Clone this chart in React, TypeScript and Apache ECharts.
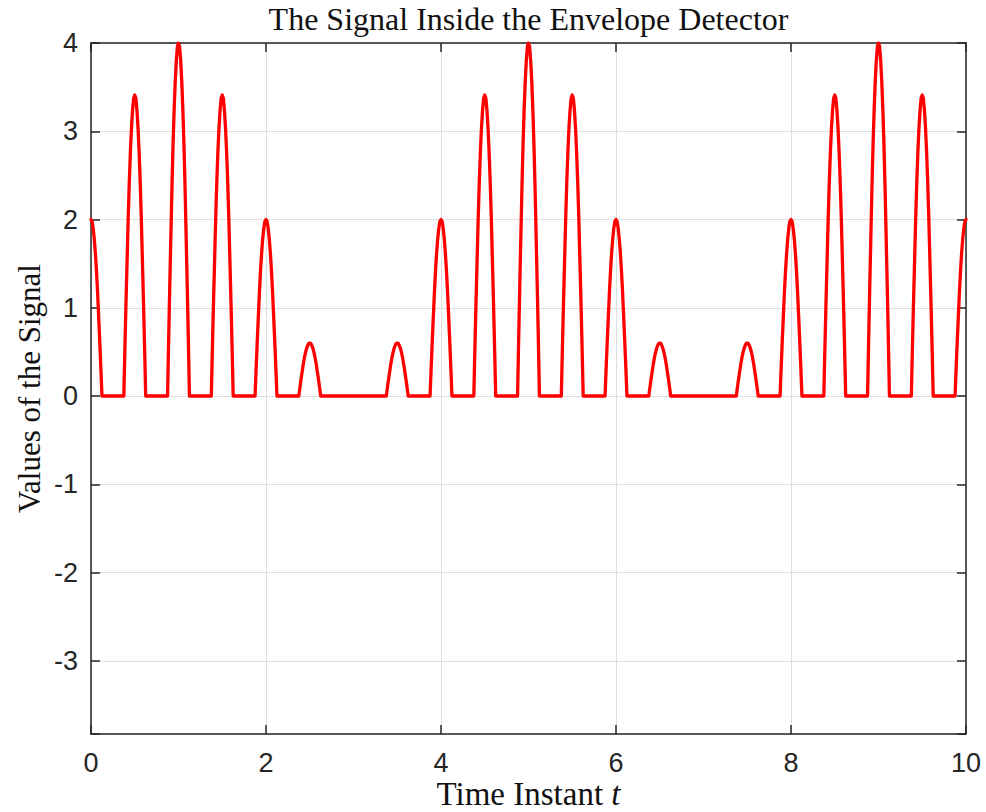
import React, { useEffect, useRef } from 'react';
import * as echarts from 'echarts';

const titleText = 'The Signal Inside the Envelope Detector';
const xLabelText = 'Time Instant ';
const xLabelVar = 't';
const yLabelText = 'Values of the Signal';

const xMin = 0;
const xMax = 10;
const xStep = 2;
const yMin = -3.83;
const yMax = 4;
const yTickLabels = [-3, -2, -1, 0, 1, 2, 3, 4];

// Centre and height of each rectified carrier pulse
const pulseCentres = [0, 0.5, 1, 1.5, 2, 2.5, 3, 3.5, 4, 4.5, 5, 5.5, 6, 6.5, 7, 7.5, 8, 8.5, 9, 9.5, 10];
const pulsePeaks = [2.0, 3.41, 4.0, 3.41, 2.0, 0.6, 0.0, 0.6, 2.0, 3.41, 4.0, 3.41, 2.0, 0.6, 0.0, 0.6, 2.0, 3.41, 4.0, 3.41, 2.0];
// Shape of one pulse (offset in t, relative height)
const pulseOffsets = [
  -0.125, -0.1125, -0.1, -0.0875, -0.075, -0.0625, -0.05, -0.0375, -0.025, -0.0125,
  0,
  0.0125, 0.025, 0.0375, 0.05, 0.0625, 0.075, 0.0875, 0.1, 0.1125, 0.125,
];
const pulseShape = [
  0, 0.16, 0.31, 0.45, 0.59, 0.71, 0.81, 0.89, 0.95, 0.99,
  1,
  0.99, 0.95, 0.89, 0.81, 0.71, 0.59, 0.45, 0.31, 0.16, 0,
];

function buildSignal(): [number, number][] {
  const pts: [number, number][] = [];
  pulseCentres.forEach((c, i) => {
    pulseOffsets.forEach((o, j) => {
      const t = +(c + o).toFixed(4);
      if (t < xMin - 1e-9 || t > xMax + 1e-9) return;
      pts.push([t, +(pulsePeaks[i] * pulseShape[j]).toFixed(4)]);
    });
  });
  return pts;
}

const AXIS_COLOR = '#262626';
const GRID_COLOR = '#dedede';
const TICK_FONT = '"Liberation Sans", Arial, Helvetica, sans-serif';
const SERIF_FONT = '"Liberation Serif", "Times New Roman", serif';

export default function App() {
  const ref = useRef<HTMLDivElement>(null);
  useEffect(() => {
    if (!ref.current) return;
    const chart = echarts.init(ref.current, undefined, { renderer: 'svg' });
    const gridLeft = 91, gridRight = 20, gridTop = 43, gridBottom = 78;
    const W = 986, H = 812;
    const plotCx = gridLeft + (W - gridLeft - gridRight) / 2;
    const plotCy = gridTop + (H - gridTop - gridBottom) / 2;
    const commonX = {
      type: 'value' as const,
      min: xMin,
      max: xMax,
      interval: xStep,
    };
    const commonY = {
      type: 'value' as const,
      min: yMin,
      max: yMax,
      minInterval: 1,
      maxInterval: 1,
      splitNumber: 8,
    };
    chart.setOption({
      animation: false,
      backgroundColor: '#ffffff',
      grid: { left: gridLeft, right: gridRight, top: gridTop, bottom: gridBottom, containLabel: false },
      xAxis: [
        {
          ...commonX,
          position: 'bottom',
          axisLine: { show: true, onZero: false, lineStyle: { color: AXIS_COLOR, width: 1.5 } },
          axisTick: { show: true, inside: true, length: 9, lineStyle: { color: AXIS_COLOR, width: 1.5 } },
          axisLabel: { show: true, margin: 15, color: AXIS_COLOR, fontSize: 27, fontFamily: TICK_FONT },
          splitLine: { show: true, lineStyle: { color: GRID_COLOR, width: 1 } },
        },
        {
          ...commonX,
          position: 'top',
          axisLine: { show: true, onZero: false, lineStyle: { color: AXIS_COLOR, width: 1.5 } },
          axisTick: { show: true, inside: true, length: 9, lineStyle: { color: AXIS_COLOR, width: 1.5 } },
          axisLabel: { show: false },
          splitLine: { show: false },
        },
      ],
      yAxis: [
        {
          ...commonY,
          position: 'left',
          axisLine: { show: true, onZero: false, lineStyle: { color: AXIS_COLOR, width: 1.5 } },
          axisTick: { show: true, inside: true, length: 9, lineStyle: { color: AXIS_COLOR, width: 1.5 } },
          axisLabel: {
            show: true,
            margin: 13,
            color: AXIS_COLOR,
            fontSize: 27,
            fontFamily: TICK_FONT,
            formatter: (v: number) => (yTickLabels.some((t) => Math.abs(t - v) < 1e-6) ? String(Math.round(v)) : ''),
          },
          splitLine: { show: true, lineStyle: { color: GRID_COLOR, width: 1 } },
        },
        {
          ...commonY,
          position: 'right',
          axisLine: { show: true, onZero: false, lineStyle: { color: AXIS_COLOR, width: 1.5 } },
          axisTick: { show: true, inside: true, length: 9, lineStyle: { color: AXIS_COLOR, width: 1.5 } },
          axisLabel: { show: false },
          splitLine: { show: false },
        },
      ],
      series: [
        {
          type: 'line',
          xAxisIndex: 0,
          yAxisIndex: 0,
          data: buildSignal(),
          showSymbol: false,
          symbol: 'none',
          clip: true,
          lineStyle: { color: '#ff0000', width: 3.3, join: 'round', cap: 'round' },
          z: 5,
        },
      ],
      graphic: [
        {
          type: 'text',
          x: plotCx,
          y: 19,
          style: {
            text: titleText,
            fill: '#111111',
            font: `32px ${SERIF_FONT}`,
            textAlign: 'center',
            textVerticalAlign: 'middle',
          },
        },
        {
          type: 'text',
          x: plotCx,
          y: 794,
          style: {
            text: `${xLabelText}{i|${xLabelVar}}`,
            fill: '#111111',
            font: `33px ${SERIF_FONT}`,
            textAlign: 'center',
            textVerticalAlign: 'middle',
            rich: {
              i: { fontStyle: 'italic', fontFamily: SERIF_FONT, fontSize: 33, fill: '#111111' },
            },
          },
        },
        {
          type: 'text',
          x: 29,
          y: plotCy,
          rotation: Math.PI / 2,
          style: {
            text: yLabelText,
            fill: '#111111',
            font: `31px ${SERIF_FONT}`,
            textAlign: 'center',
            textVerticalAlign: 'middle',
          },
        },
      ],
    });
    return () => chart.dispose();
  }, []);
  return (
    <div
      ref={ref}
      style={{ position: 'absolute', left: 0, top: 0, width: 986, height: 812, background: '#fff' }}
    />
  );
}
